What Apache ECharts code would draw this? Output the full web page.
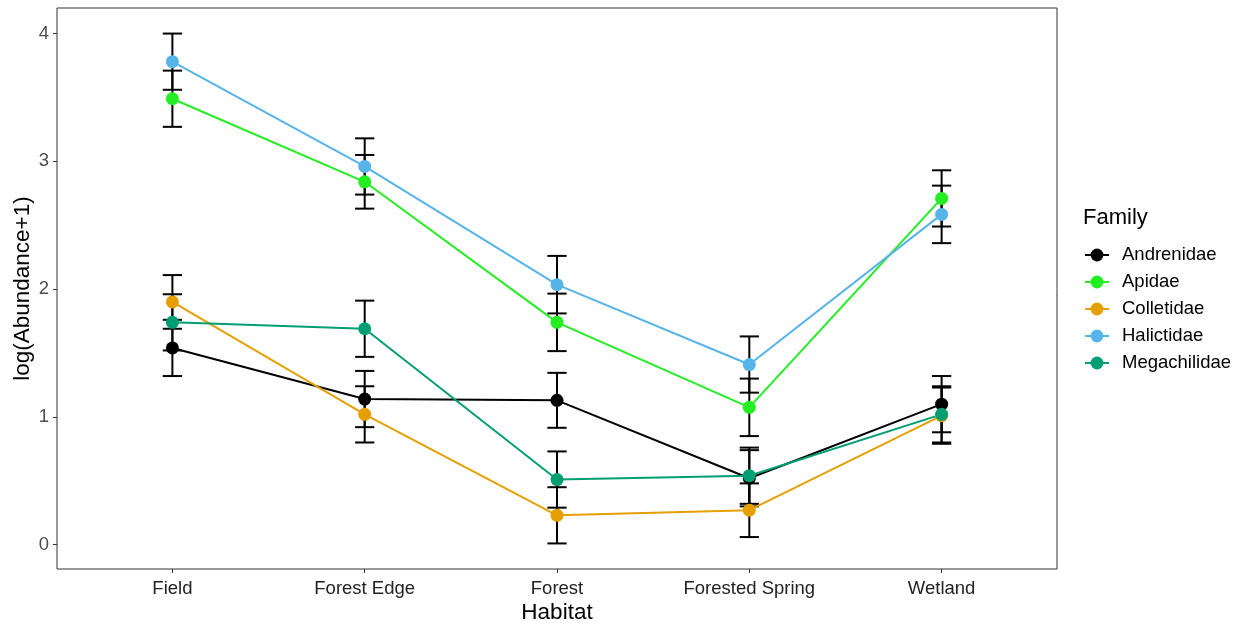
<!DOCTYPE html>
<html>
<head>
<meta charset="utf-8">
<script src="https://cdn.jsdelivr.net/npm/echarts@6/dist/echarts.min.js"></script>
<style>
html,body{margin:0;padding:0;background:#fff;}
#chart{width:1242px;height:624px;}
</style>
</head>
<body>
<div id="chart"></div>
<script>
var habitats = ["Field", "Forest Edge", "Forest", "Forested Spring", "Wetland"];
var families = ["Andrenidae", "Apidae", "Colletidae", "Halictidae", "Megachilidae"];
var colors = ["#000000", "#22EE22", "#E69F00", "#56B4E9", "#009E73"];
var yTicks = [0, 1, 2, 3, 4];

var andrenidaeMean = [1.54, 1.14, 1.13, 0.52, 1.10];
var andrenidaeSE   = [0.22, 0.22, 0.215, 0.22, 0.22];
var apidaeMean     = [3.49, 2.84, 1.74, 1.075, 2.71];
var apidaeSE       = [0.22, 0.21, 0.225, 0.225, 0.22];
var colletidaeMean = [1.90, 1.02, 0.23, 0.27, 1.01];
var colletidaeSE   = [0.21, 0.22, 0.22, 0.21, 0.22];
var halictidaeMean = [3.78, 2.96, 2.035, 1.41, 2.585];
var halictidaeSE   = [0.22, 0.22, 0.225, 0.22, 0.225];
var megachilidaeMean = [1.74, 1.69, 0.51, 0.54, 1.02];
var megachilidaeSE   = [0.22, 0.22, 0.22, 0.22, 0.22];

var means = [andrenidaeMean, apidaeMean, colletidaeMean, halictidaeMean, megachilidaeMean];
var ses = [andrenidaeSE, apidaeSE, colletidaeSE, halictidaeSE, megachilidaeSE];

var FONT = "Liberation Sans";
var chart = echarts.init(document.getElementById('chart'), null, {renderer: 'canvas'});

var series = [];
families.forEach(function (f, k) {
  series.push({
    type: 'custom',
    name: f + '_err',
    z: 2,
    silent: true,
    data: means[k].map(function (m, i) { return [i, m - ses[k][i], m + ses[k][i]]; }),
    renderItem: function (params, api) {
      var x = api.value(0), lo = api.value(1), hi = api.value(2);
      var pLo = api.coord([x, lo]), pHi = api.coord([x, hi]);
      var l = api.coord([x - 0.05, lo]), r = api.coord([x + 0.05, lo]);
      var lh = api.coord([x - 0.05, hi]), rh = api.coord([x + 0.05, hi]);
      var st = {stroke: '#000', lineWidth: 2};
      return {type: 'group', children: [
        {type: 'line', shape: {x1: pLo[0], y1: pLo[1], x2: pHi[0], y2: pHi[1]}, style: st},
        {type: 'line', shape: {x1: l[0], y1: l[1], x2: r[0], y2: r[1]}, style: st},
        {type: 'line', shape: {x1: lh[0], y1: lh[1], x2: rh[0], y2: rh[1]}, style: st}
      ]};
    }
  });
});
families.forEach(function (f, k) {
  series.push({
    type: 'line',
    name: f,
    z: 3,
    data: means[k].map(function (m, i) { return [i, m]; }),
    symbol: 'circle',
    symbolSize: 13,
    showSymbol: true,
    lineStyle: {color: colors[k], width: 2},
    itemStyle: {color: colors[k]},
    emphasis: {disabled: true},
    animation: false
  });
});

chart.setOption({
  animation: false,
  backgroundColor: '#fff',
  title: {
    text: 'Family',
    left: 1078, top: 202,
    textStyle: {fontFamily: FONT, fontSize: 22, fontWeight: 'normal', color: '#000'}
  },
  legend: {
    data: families,
    orient: 'vertical',
    left: 1079, top: 240,
    itemWidth: 24, itemHeight: 16,
    itemGap: 7,
    textStyle: {fontFamily: FONT, fontSize: 18.5, color: '#000', lineHeight: 20, padding: [0, 0, 0, 8]}
  },
  grid: {left: 57, right: 185, top: 8, bottom: 55, show: true, borderColor: '#333', borderWidth: 1, containLabel: false, outerBoundsMode: 'none'},
  xAxis: {
    type: 'value',
    min: -0.6, max: 4.6,
    name: 'Habitat',
    nameLocation: 'middle',
    nameGap: 32,
    nameMoveOverlap: false,
    nameTextStyle: {fontFamily: FONT, fontSize: 22.5, color: '#000'},
    splitLine: {show: false},
    axisLine: {show: false, onZero: false},
    axisTick: {show: true, length: 4, customValues: [0, 1, 2, 3, 4], lineStyle: {color: '#333'}},
    axisLabel: {
      customValues: [0, 1, 2, 3, 4],
      formatter: function (v) { return habitats[Math.round(v)]; },
      fontFamily: FONT, fontSize: 18.5, color: '#222', margin: 10
    }
  },
  yAxis: {
    type: 'value',
    min: -0.19, max: 4.2,
    name: 'log(Abundance+1)',
    nameLocation: 'middle',
    nameGap: 23,
    nameMoveOverlap: false,
    nameTextStyle: {fontFamily: FONT, fontSize: 22.5, color: '#000'},
    splitLine: {show: false},
    axisLine: {show: false, onZero: false},
    axisTick: {show: true, length: 4, customValues: yTicks, lineStyle: {color: '#333'}},
    axisLabel: {
      customValues: yTicks,
      fontFamily: FONT, fontSize: 18.5, color: '#4D4D4D', margin: 8
    }
  },
  series: series
});
</script>
</body>
</html>
